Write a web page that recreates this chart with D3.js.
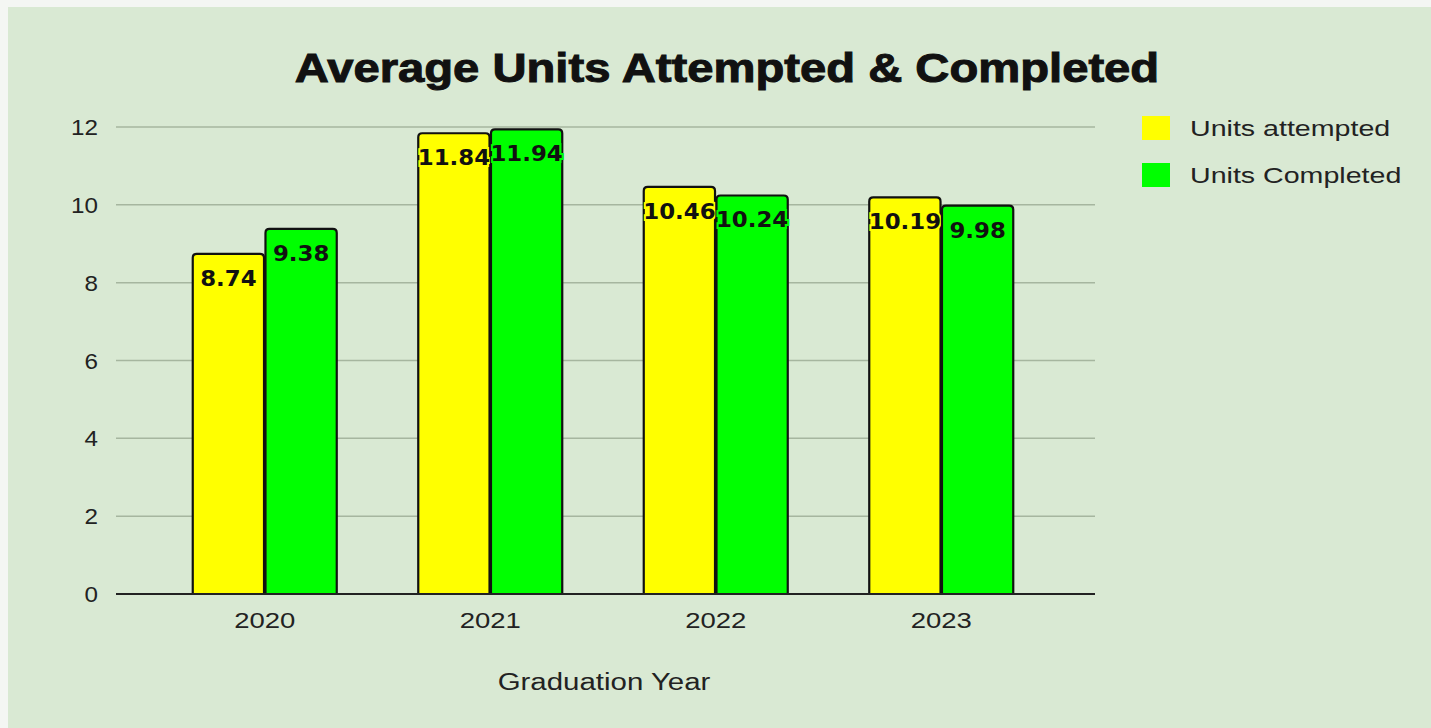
<!DOCTYPE html>
<html>
<head>
<meta charset="utf-8">
<script src="https://cdn.jsdelivr.net/npm/d3@7"></script>
<style>
  body { margin: 0; background: #f4f6f3; }
  svg { display: block; }
</style>
</head>
<body>
<div id="chart"></div>
<script>
// Chart data
const years = ["2020", "2021", "2022", "2023"];
const attempted = [8.74, 11.84, 10.46, 10.19];
const completed = [9.38, 11.94, 10.24, 9.98];
const seriesNames = ["Units attempted", "Units Completed"];
const seriesColors = ["#ffff00", "#00ff00"];
const yTicks = [0, 2, 4, 6, 8, 10, 12];

const W = 1431, H = 728;
const font = "'Liberation Sans', Arial, sans-serif";

const svg = d3.select("#chart").append("svg")
    .attr("width", W)
    .attr("height", H);

// Green panel
svg.append("rect")
    .attr("x", 8).attr("y", 7)
    .attr("width", W - 8).attr("height", H - 7)
    .attr("fill", "#d9e9d3");

// Text in the reference is drawn a bit wider than normal, so stretch it horizontally
function wideText(parent, x, y, sx, txt) {
    return parent.append("text")
        .attr("transform", `translate(${x}, ${y}) scale(${sx}, 1)`)
        .text(txt);
}

// Scales
const axisLeft = 116, axisRight = 1095;
const x = d3.scaleBand()
    .domain(years)
    .range([152, 1054]);

const inner = d3.scaleBand()
    .domain(d3.range(seriesNames.length))
    .range([x.bandwidth() / 2 - 72, x.bandwidth() / 2 + 72])
    .paddingInner(0.02);

const y = d3.scaleLinear()
    .domain([0, 12])
    .range([594, 127]);

// Title
wideText(svg, 727, 82, 1.18, "Average Units Attempted & Completed")
    .attr("text-anchor", "middle")
    .attr("font-family", font)
    .attr("font-size", "40px")
    .attr("font-weight", 700)
    .attr("fill", "#111")
    .attr("stroke", "#111")
    .attr("stroke-width", 1);

// Grid lines
svg.append("g")
    .selectAll("line")
    .data(yTicks.filter(d => d > 0))
    .enter()
    .append("line")
    .attr("x1", axisLeft).attr("x2", axisRight)
    .attr("y1", d => y(d)).attr("y2", d => y(d))
    .attr("stroke", "#a6b69f")
    .attr("stroke-width", 1.5);

// Y axis labels
const yLabels = svg.append("g");
yTicks.forEach(t => {
    wideText(yLabels, 98, y(t) + 8, 1.1, t)
        .attr("text-anchor", "end")
        .attr("font-family", font)
        .attr("font-size", "22px")
        .attr("fill", "#222");
});

// Bars
const series = [attempted, completed];
const barPath = (x0, w, yTop, yBase, r) =>
    `M${x0},${yBase}V${yTop + r}Q${x0},${yTop} ${x0 + r},${yTop}H${x0 + w - r}Q${x0 + w},${yTop} ${x0 + w},${yTop + r}V${yBase}`;

series.forEach((vals, s) => {
    const g = svg.append("g");
    g.selectAll("path")
        .data(years)
        .enter()
        .append("path")
        .attr("d", (d, i) => barPath(x(d) + inner(s), inner.bandwidth(), y(vals[i]), y(0), 4))
        .attr("fill", seriesColors[s])
        .attr("stroke", "#111")
        .attr("stroke-width", 2.2);

    // Value labels with a halo in the bar colour
    years.forEach((d, i) => {
        wideText(g, x(d) + inner(s) + inner.bandwidth() / 2, y(vals[i]) + 32, 1.04, vals[i].toFixed(2))
            .attr("text-anchor", "middle")
            .attr("font-family", "'DejaVu Sans', Verdana, sans-serif")
            .attr("font-size", "22px")
            .attr("font-weight", 700)
            .attr("fill", "#111")
            .attr("stroke", seriesColors[s])
            .attr("stroke-width", 4)
            .attr("paint-order", "stroke");
    });
});

// X axis
const xLabels = svg.append("g");
years.forEach(d => {
    wideText(xLabels, x(d) + x.bandwidth() / 2, 628, 1.25, d)
        .attr("text-anchor", "middle")
        .attr("font-family", font)
        .attr("font-size", "22px")
        .attr("fill", "#222");
});

svg.append("line")
    .attr("x1", axisLeft).attr("x2", axisRight)
    .attr("y1", y(0)).attr("y2", y(0))
    .attr("stroke", "#222")
    .attr("stroke-width", 2);

// X axis title
wideText(svg, 604, 690, 1.28, "Graduation Year")
    .attr("text-anchor", "middle")
    .attr("font-family", font)
    .attr("font-size", "23px")
    .attr("fill", "#222");

// Legend
const legend = svg.append("g")
    .selectAll("g")
    .data(seriesNames)
    .enter()
    .append("g")
    .attr("transform", (d, i) => `translate(1142, ${116 + i * 47})`);

legend.append("rect")
    .attr("width", 28)
    .attr("height", 24)
    .attr("fill", (d, i) => seriesColors[i]);

legend.each(function (d) {
    wideText(d3.select(this), 48, 20, 1.3, d)
        .attr("font-family", font)
        .attr("font-size", "22px")
        .attr("fill", "#222");
});
</script>
</body>
</html>
